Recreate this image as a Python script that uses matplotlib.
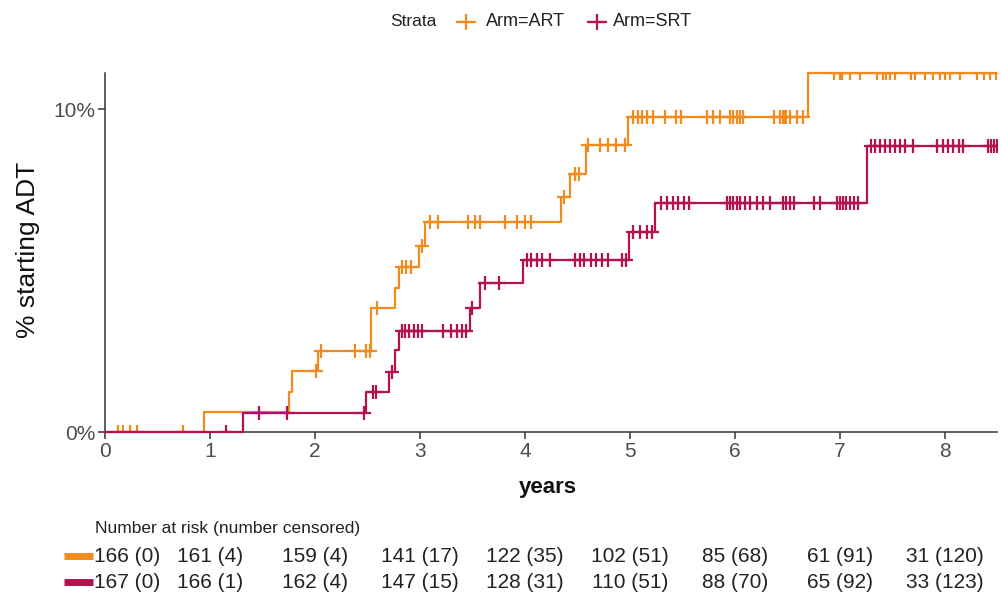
import numpy as np
import matplotlib
matplotlib.use("Agg")
import matplotlib.pyplot as plt
from matplotlib.lines import Line2D
from matplotlib.transforms import blended_transform_factory

plt.rcParams['font.family'] = ['Liberation Sans', 'DejaVu Sans']

# --- data (cumulative % starting ADT) ---
art_times = [0.94, 1.75, 1.78, 2.03, 2.53, 2.76, 2.80, 2.99, 3.05, 4.34, 4.43, 4.58, 4.98, 6.70]
art_cum = [0.62, 1.25, 1.9, 2.5, 3.85, 4.47, 5.1, 5.75, 6.5, 7.27, 8.0, 8.9, 9.75, 11.12]
art_censor = [0.12, 0.17, 0.24, 0.30, 0.74,
              2.01, 2.06, 2.38, 2.49, 2.52, 2.59, 2.83, 2.87, 2.91, 3.02, 3.10, 3.17,
              3.46, 3.52, 3.57, 3.81, 3.92, 4.00, 4.06, 4.37, 4.48, 4.51,
              4.60, 4.71, 4.79, 4.87, 4.95,
              5.03, 5.08, 5.11, 5.16, 5.22, 5.33, 5.44, 5.49, 5.73, 5.79, 5.86, 5.95,
              5.98, 6.02, 6.05, 6.08, 6.37, 6.43, 6.46, 6.48, 6.49, 6.52, 6.59, 6.65,
              6.94, 7.00, 7.02, 7.10, 7.19, 7.35, 7.41, 7.44, 7.48, 7.52, 7.68, 7.71,
              7.81, 7.89, 7.95, 8.00, 8.05, 8.14, 8.30, 8.37, 8.43, 8.49]

srt_times = [1.31, 2.49, 2.70, 2.76, 2.80, 3.48, 3.57, 3.98, 4.99, 5.24, 7.26]
srt_cum = [0.6, 1.24, 1.87, 2.55, 3.13, 3.85, 4.6, 5.34, 6.2, 7.1, 8.85]
srt_censor = [1.15, 1.47, 1.73, 2.47, 2.55, 2.58, 2.73,
              2.83, 2.86, 2.90, 2.94, 2.98, 3.02, 3.22, 3.30, 3.35, 3.40, 3.44,
              3.50, 3.62, 3.75,
              4.02, 4.06, 4.11, 4.16, 4.24, 4.48, 4.52, 4.56, 4.63, 4.68, 4.73, 4.79,
              4.92, 4.96, 5.03, 5.10, 5.16, 5.21,
              5.30, 5.35, 5.41, 5.46, 5.51, 5.56, 5.92, 5.95, 5.98, 6.02, 6.05, 6.10,
              6.14, 6.21, 6.27, 6.33, 6.46, 6.49, 6.52, 6.56, 6.75, 6.81, 6.97, 7.00,
              7.03, 7.06, 7.10, 7.13, 7.17,
              7.30, 7.33, 7.38, 7.43, 7.48, 7.52, 7.57, 7.62, 7.70, 7.92, 7.98, 8.03,
              8.08, 8.13, 8.17, 8.41, 8.44, 8.47, 8.50]

# number at risk table
risk_years = [0, 1, 2, 3, 4, 5, 6, 7, 8]
art_risk = [166, 161, 159, 141, 122, 102, 85, 61, 31]
art_risk_cens = [0, 4, 4, 17, 35, 51, 68, 91, 120]
srt_risk = [167, 166, 162, 147, 128, 110, 88, 65, 33]
srt_risk_cens = [0, 1, 4, 15, 31, 51, 70, 92, 123]

ART_COLOR = '#F28A1E'
SRT_COLOR = '#B3124E'

W, H = 1003, 601
fig = plt.figure(figsize=(W / 100, H / 100), dpi=100)
ax = fig.add_axes([105 / W, 1 - 432 / H, 892.5 / W, 359 / H])


def level_at(times, cum, t):
    idx = np.searchsorted(times, t, side='right') - 1
    return np.where(idx >= 0, np.asarray(cum)[np.clip(idx, 0, None)], 0.0)


def draw_arm(times, cum, censor, color):
    end = max(censor)
    xs = np.concatenate([[0], times, [end]])
    ys = np.concatenate([[0], cum, [cum[-1]]])
    ax.step(xs, ys, where='post', color=color, lw=1.6, clip_on=False, zorder=3)
    ax.plot(censor, level_at(times, cum, censor), linestyle='none', marker='+',
            ms=10, mew=1.6, color=color, zorder=3)


draw_arm(art_times, art_cum, art_censor, ART_COLOR)
draw_arm(srt_times, srt_cum, srt_censor, SRT_COLOR)

ax.set_xlim(0, 8.5)
ax.set_ylim(0, 11.12)
ax.set_xticks(range(0, 9))
ax.set_yticks([0, 10])
ax.set_yticklabels(['0%', '10%'])
for s in ['top', 'right']:
    ax.spines[s].set_visible(False)
for s in ['left', 'bottom']:
    ax.spines[s].set_color('#333333')
    ax.spines[s].set_linewidth(1.1)
ax.tick_params(axis='both', length=5, width=1.1, color='#333333',
               labelsize=15, labelcolor='#4d4d4d', pad=2)

fig.text(28 / W, 1 - 250 / H, '% starting ADT', rotation=90, ha='center', va='center',
         fontsize=19, color='#111111')
fig.text(548 / W, 1 - 488 / H, 'years', ha='center', va='center', fontsize=16,
         fontweight='bold', color='#111111')

# legend on top
ly = 1 - 22 / H
fig.text(390 / W, ly, 'Strata', ha='left', va='center', fontsize=12.5, color='#222222')
for cx, color, label, tx in [(466, ART_COLOR, 'Arm=ART', 486), (597, SRT_COLOR, 'Arm=SRT', 613)]:
    fig.add_artist(Line2D([(cx - 9) / W, (cx + 9) / W], [ly, ly], color=color, lw=1.6,
                          transform=fig.transFigure))
    fig.add_artist(Line2D([cx / W], [ly], color=color, marker='+', ms=11, mew=1.6,
                          transform=fig.transFigure))
    fig.text(tx / W, ly, label, ha='left', va='center', fontsize=13, color='#222222')

# number at risk table
fig.text(95 / W, 1 - 529 / H, 'Number at risk (number censored)', ha='left', va='center',
         fontsize=12.5, color='#222222')
trans = blended_transform_factory(ax.transData, fig.transFigure)
for row_y, color, risk, cens in [(556, ART_COLOR, art_risk, art_risk_cens),
                                 (582, SRT_COLOR, srt_risk, srt_risk_cens)]:
    yy = 1 - row_y / H
    fig.add_artist(Line2D([64 / W, 93 / W], [yy, yy], color=color, lw=5,
                          solid_capstyle='butt', transform=fig.transFigure))
    for i, (yr, n, c) in enumerate(zip(risk_years, risk, cens)):
        label = f'{n} ({c})'
        if i == 0:
            fig.text(94 / W, yy, label, ha='left', va='center', fontsize=15, color='#222222')
        else:
            fig.text(yr, yy, label, ha='center', va='center', fontsize=15, color='#222222',
                     transform=trans)

fig.savefig('out.png', dpi=100)
